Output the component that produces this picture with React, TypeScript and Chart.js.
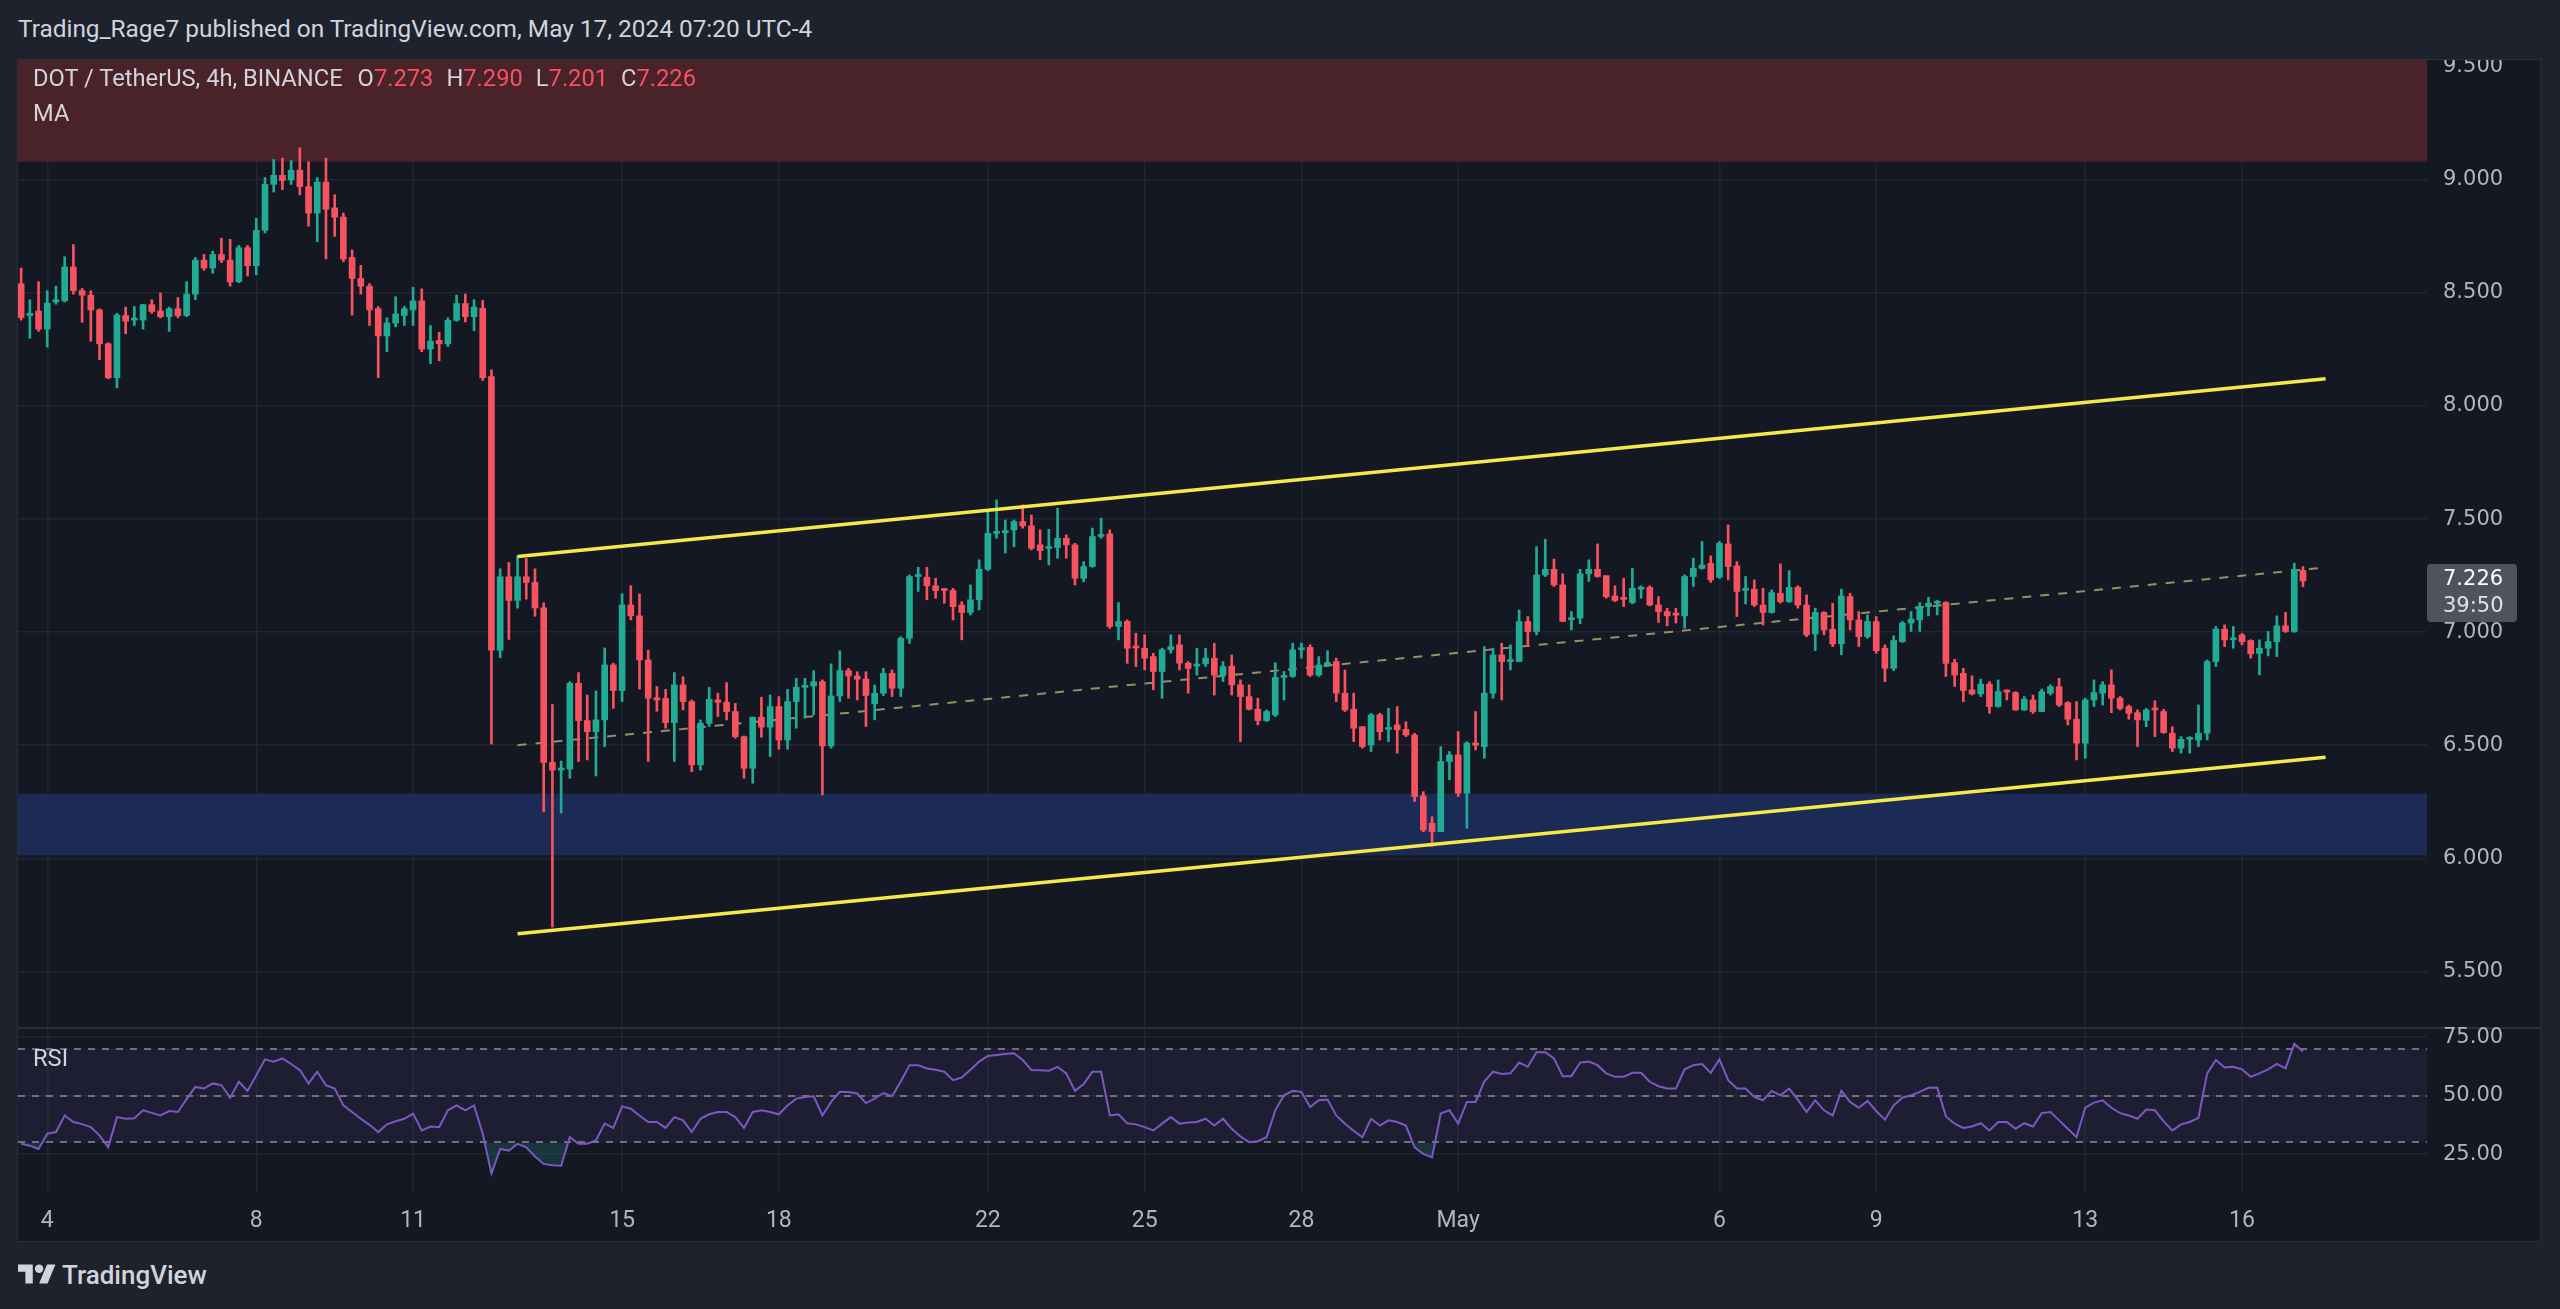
import React, { useEffect, useRef } from "react";
import { Chart, registerables } from "chart.js";

Chart.register(...registerables);

const FONT = "Roboto, 'Liberation Sans', sans-serif";
const AXIS_FONT = "'DejaVu Sans', Verdana, sans-serif";
const UP = "#22ab94";
const DOWN = "#f7525f";
const GRID = "rgba(42,46,57,0.6)";
const AXIS_TEXT = "#b2b5be";
const PANE_BG = "#141823";
const OUTER_BG = "#1e222d";
const TEXT = "#d1d4dc";

// time grid: day offset from Apr 4 (00:00), one candle every 4 hours
const firstCandleDay = -0.5;
const candleStepDays = 1 / 6;

const opens = [
  8.541, 8.40, 8.42, 8.34, 8.46, 8.465, 8.615, 8.51, 8.49, 8.425,
  8.275, 8.125, 8.40, 8.38, 8.38, 8.448, 8.42, 8.395, 8.43, 8.40,
  8.495, 8.645, 8.61, 8.67, 8.645, 8.55, 8.70, 8.62, 8.777, 8.98,
  9.02, 9.0, 9.043, 8.97, 8.853, 8.99, 8.876, 8.835, 8.657, 8.564,
  8.53, 8.43, 8.31, 8.367, 8.40, 8.425, 8.465, 8.252, 8.29, 8.275,
  8.379, 8.453, 8.395, 8.432, 8.13, 6.92, 7.245, 7.14, 7.245, 7.22,
  7.107, 6.424, 6.39, 6.395, 6.774, 6.609, 6.56, 6.612, 6.855, 6.742,
  7.12, 7.072, 6.877, 6.71, 6.707, 6.60, 6.767, 6.693, 6.413, 6.597,
  6.70, 6.69, 6.649, 6.538, 6.398, 6.624, 6.58, 6.671, 6.523, 6.693,
  6.756, 6.762, 6.781, 6.497, 6.718, 6.83, 6.806, 6.792, 6.683, 6.73,
  6.818, 6.752, 6.973, 7.246, 7.243, 7.205, 7.19, 7.184, 7.12, 7.087,
  7.143, 7.278, 7.437, 7.44, 7.452, 7.489, 7.47, 7.386, 7.37, 7.374,
  7.415, 7.386, 7.238, 7.29, 7.423, 7.434, 7.025, 7.047, 6.935, 6.929,
  6.892, 6.826, 6.922, 6.944, 6.863, 6.85, 6.86, 6.885, 6.81, 6.85,
  6.767, 6.715, 6.659, 6.609, 6.634, 6.80, 6.804, 6.922, 6.933, 6.81,
  6.855, 6.87, 6.73, 6.659, 6.582, 6.501, 6.634, 6.57, 6.59, 6.57,
  6.545, 6.276, 6.155, 6.118, 6.428, 6.457, 6.288, 6.51, 6.494, 6.73,
  6.899, 6.87, 6.87, 7.047, 7.003, 7.253, 7.278, 7.209, 7.055, 7.062,
  7.258, 7.278, 7.25, 7.16, 7.147, 7.131, 7.19, 7.198, 7.12, 7.091,
  7.08, 7.072, 7.246, 7.282, 7.304, 7.243, 7.39, 7.293, 7.185, 7.19,
  7.12, 7.087, 7.172, 7.135, 7.198, 7.12, 6.992, 7.087, 7.013, 6.948,
  7.157, 7.054, 6.98, 7.047, 6.929, 6.84, 6.958, 7.04, 7.054, 7.113,
  7.128, 7.131, 6.865, 6.818, 6.745, 6.727, 6.77, 6.671, 6.737, 6.733,
  6.656, 6.70, 6.649, 6.73, 6.759, 6.688, 6.615, 6.509, 6.70, 6.73,
  6.767, 6.708, 6.671, 6.644, 6.61, 6.658, 6.649, 6.553, 6.487, 6.526,
  6.523, 6.553, 6.87, 7.013, 6.966, 6.988, 6.963, 6.906, 6.929, 6.958,
  7.028, 7.003, 7.273,
];

const highs = [
  8.61, 8.47, 8.55, 8.51, 8.53, 8.66, 8.714, 8.52, 8.51, 8.43,
  8.28, 8.41, 8.437, 8.44, 8.45, 8.47, 8.50, 8.437, 8.48, 8.55,
  8.656, 8.67, 8.685, 8.742, 8.737, 8.71, 8.71, 8.83, 9.01, 9.09,
  9.096, 9.085, 9.142, 9.08, 9.01, 9.096, 8.934, 8.853, 8.69, 8.622,
  8.541, 8.44, 8.39, 8.483, 8.44, 8.525, 8.518, 8.356, 8.326, 8.39,
  8.49, 8.495, 8.47, 8.467, 8.16, 7.28, 7.308, 7.338, 7.326, 7.28,
  7.13, 6.68, 6.43, 6.781, 6.821, 6.722, 6.74, 6.93, 6.863, 7.169,
  7.205, 7.169, 6.92, 6.76, 6.747, 6.821, 6.803, 6.70, 6.612, 6.756,
  6.73, 6.777, 6.685, 6.541, 6.624, 6.712, 6.722, 6.715, 6.747, 6.796,
  6.796, 6.83, 6.789, 6.86, 6.918, 6.84, 6.825, 6.825, 6.766, 6.84,
  6.833, 6.98, 7.253, 7.287, 7.287, 7.238, 7.194, 7.194, 7.135, 7.209,
  7.32, 7.533, 7.585, 7.496, 7.496, 7.563, 7.518, 7.452, 7.455, 7.548,
  7.43, 7.393, 7.312, 7.46, 7.504, 7.452, 7.131, 7.054, 6.995, 6.988,
  6.907, 6.929, 6.988, 6.988, 6.87, 6.929, 6.929, 6.951, 6.87, 6.899,
  6.789, 6.767, 6.708, 6.656, 6.865, 6.826, 6.951, 6.951, 6.944, 6.892,
  6.918, 6.885, 6.833, 6.73, 6.582, 6.641, 6.641, 6.663, 6.671, 6.604,
  6.553, 6.295, 6.184, 6.494, 6.472, 6.56, 6.516, 6.649, 6.936, 6.929,
  6.951, 6.944, 7.098, 7.069, 7.378, 7.411, 7.323, 7.258, 7.091, 7.278,
  7.32, 7.39, 7.25, 7.205, 7.238, 7.282, 7.205, 7.205, 7.157, 7.106,
  7.106, 7.253, 7.327, 7.401, 7.337, 7.401, 7.474, 7.312, 7.246, 7.231,
  7.194, 7.187, 7.302, 7.272, 7.205, 7.165, 7.106, 7.091, 7.128, 7.19,
  7.172, 7.091, 7.076, 7.069, 6.944, 6.984, 7.047, 7.091, 7.131, 7.154,
  7.14, 7.135, 6.88, 6.84, 6.807, 6.792, 6.781, 6.789, 6.745, 6.737,
  6.715, 6.722, 6.748, 6.767, 6.796, 6.693, 6.693, 6.708, 6.789, 6.781,
  6.833, 6.715, 6.678, 6.656, 6.663, 6.697, 6.659, 6.582, 6.538, 6.538,
  6.678, 6.877, 7.025, 7.032, 7.025, 6.995, 6.966, 6.966, 7.003, 7.072,
  7.087, 7.305, 7.29,
];

const lows = [
  8.38, 8.30, 8.33, 8.26, 8.45, 8.46, 8.495, 8.37, 8.286, 8.205,
  8.12, 8.08, 8.32, 8.356, 8.34, 8.41, 8.39, 8.33, 8.39, 8.395,
  8.47, 8.60, 8.587, 8.634, 8.53, 8.545, 8.575, 8.58, 8.765, 8.946,
  8.957, 8.98, 8.934, 8.795, 8.726, 8.65, 8.75, 8.638, 8.402, 8.495,
  8.356, 8.125, 8.24, 8.35, 8.356, 8.356, 8.24, 8.187, 8.20, 8.263,
  8.375, 8.372, 8.333, 8.113, 6.505, 6.887, 6.968, 7.106, 7.146, 7.07,
  6.205, 5.696, 6.20, 6.354, 6.428, 6.435, 6.364, 6.494, 6.663, 6.693,
  7.054, 6.748, 6.428, 6.65, 6.575, 6.428, 6.656, 6.383, 6.39, 6.583,
  6.627, 6.612, 6.531, 6.354, 6.332, 6.535, 6.45, 6.482, 6.482, 6.575,
  6.62, 6.634, 6.28, 6.487, 6.693, 6.708, 6.70, 6.583, 6.612, 6.72,
  6.715, 6.715, 6.95, 7.18, 7.143, 7.15, 7.128, 7.054, 6.966, 7.076,
  7.098, 7.272, 7.415, 7.35, 7.378, 7.46, 7.364, 7.32, 7.297, 7.327,
  7.327, 7.209, 7.223, 7.287, 7.415, 7.017, 6.966, 6.862, 6.848, 6.833,
  6.745, 6.708, 6.907, 6.833, 6.73, 6.81, 6.848, 6.722, 6.782, 6.722,
  6.516, 6.656, 6.59, 6.605, 6.627, 6.70, 6.80, 6.885, 6.804, 6.804,
  6.848, 6.693, 6.649, 6.516, 6.487, 6.472, 6.523, 6.516, 6.465, 6.538,
  6.251, 6.118, 6.052, 6.118, 6.347, 6.273, 6.133, 6.479, 6.442, 6.708,
  6.70, 6.833, 6.87, 6.936, 6.988, 7.246, 7.202, 7.047, 7.01, 7.037,
  7.224, 7.243, 7.15, 7.135, 7.113, 7.125, 7.15, 7.116, 7.043, 7.028,
  7.04, 7.017, 7.202, 7.278, 7.22, 7.238, 7.231, 7.069, 7.125, 7.113,
  7.032, 7.084, 7.128, 7.131, 7.106, 6.98, 6.918, 6.988, 6.936, 6.9,
  7.01, 6.936, 6.973, 6.907, 6.781, 6.83, 6.955, 7.003, 7.003, 7.072,
  7.076, 6.804, 6.76, 6.693, 6.722, 6.715, 6.641, 6.668, 6.70, 6.654,
  6.654, 6.641, 6.649, 6.722, 6.671, 6.59, 6.435, 6.442, 6.671, 6.678,
  6.644, 6.656, 6.615, 6.494, 6.582, 6.538, 6.553, 6.472, 6.465, 6.465,
  6.494, 6.523, 6.848, 6.936, 6.929, 6.944, 6.885, 6.811, 6.895, 6.892,
  6.999, 6.999, 7.201,
];

const closes = [
  8.391, 8.41, 8.34, 8.455, 8.47, 8.615, 8.51, 8.49, 8.425, 8.275,
  8.125, 8.402, 8.375, 8.385, 8.448, 8.418, 8.395, 8.43, 8.40, 8.495,
  8.645, 8.61, 8.67, 8.645, 8.548, 8.70, 8.62, 8.777, 8.98, 9.02,
  8.997, 9.043, 8.97, 8.853, 8.99, 8.87, 8.835, 8.65, 8.564, 8.53,
  8.425, 8.31, 8.367, 8.407, 8.43, 8.465, 8.252, 8.287, 8.275, 8.379,
  8.453, 8.395, 8.437, 8.125, 6.92, 7.245, 7.14, 7.245, 7.22, 7.107,
  6.424, 6.39, 6.395, 6.774, 6.609, 6.56, 6.612, 6.855, 6.742, 7.12,
  7.072, 6.877, 6.708, 6.70, 6.60, 6.767, 6.693, 6.413, 6.597, 6.703,
  6.69, 6.649, 6.538, 6.398, 6.624, 6.58, 6.671, 6.523, 6.693, 6.756,
  6.762, 6.781, 6.497, 6.718, 6.83, 6.806, 6.792, 6.72, 6.73, 6.818,
  6.752, 6.973, 7.246, 7.25, 7.205, 7.184, 7.184, 7.113, 7.087, 7.143,
  7.278, 7.437, 7.44, 7.44, 7.489, 7.47, 7.371, 7.361, 7.374, 7.415,
  7.386, 7.238, 7.29, 7.423, 7.426, 7.025, 7.047, 6.929, 6.93, 6.885,
  6.826, 6.922, 6.936, 6.863, 6.84, 6.855, 6.885, 6.81, 6.848, 6.767,
  6.715, 6.659, 6.609, 6.649, 6.80, 6.804, 6.922, 6.929, 6.81, 6.855,
  6.866, 6.73, 6.656, 6.575, 6.494, 6.634, 6.56, 6.575, 6.568, 6.545,
  6.273, 6.125, 6.118, 6.428, 6.457, 6.288, 6.509, 6.50, 6.73, 6.899,
  6.87, 6.877, 7.047, 7.003, 7.253, 7.278, 7.209, 7.047, 7.058, 7.258,
  7.278, 7.246, 7.157, 7.14, 7.145, 7.194, 7.198, 7.12, 7.091, 7.072,
  7.075, 7.246, 7.282, 7.297, 7.231, 7.393, 7.29, 7.18, 7.187, 7.12,
  7.087, 7.175, 7.135, 7.198, 7.12, 6.988, 7.087, 7.01, 6.948, 7.16,
  7.054, 6.98, 7.047, 6.918, 6.84, 6.963, 7.04, 7.058, 7.113, 7.128,
  7.131, 6.862, 6.81, 6.742, 6.727, 6.77, 6.671, 6.737, 6.735, 6.656,
  6.703, 6.649, 6.737, 6.759, 6.678, 6.615, 6.509, 6.70, 6.733, 6.767,
  6.708, 6.663, 6.641, 6.612, 6.656, 6.656, 6.556, 6.487, 6.526, 6.53,
  6.553, 6.87, 7.013, 6.966, 6.973, 6.958, 6.904, 6.929, 6.958, 7.028,
  7.003, 7.278, 7.226,
];

const rsiValues = [
  29.4, 28.6, 27.2, 33.7, 34.4, 41.5, 38.7, 37.8, 36.5, 33.0,
  27.9, 40.8, 40.1, 40.3, 43.7, 42.6, 41.5, 43.4, 43.0, 48.5,
  53.7, 53.0, 55.2, 54.4, 49.1, 55.9, 52.0, 58.7, 65.5, 64.5,
  65.9, 63.5, 60.9, 55.2, 60.2, 54.4, 53.0, 45.8, 43.0, 40.1,
  37.5, 34.4, 37.7, 39.0, 40.1, 42.3, 35.1, 36.8, 36.5, 43.7,
  45.8, 43.7, 45.8, 33.7, 16.7, 27.2, 26.5, 29.4, 27.9, 24.0,
  20.8, 20.2, 20.0, 32.2, 29.4, 29.4, 30.8, 38.0, 36.2, 45.4,
  44.4, 41.5, 38.7, 38.7, 36.2, 40.8, 39.4, 34.4, 40.1, 42.0,
  43.0, 43.0, 40.8, 36.2, 43.0, 43.7, 43.0, 42.0, 45.8, 48.7,
  49.4, 49.7, 41.5, 47.3, 51.6, 51.5, 50.9, 46.8, 48.7, 51.1,
  49.7, 56.0, 63.0, 63.0, 61.6, 61.0, 60.2, 56.6, 57.7, 61.0,
  64.5, 66.9, 67.3, 67.8, 68.1, 65.2, 60.9, 60.8, 60.6, 62.3,
  59.5, 52.0, 54.9, 60.2, 60.2, 41.5, 42.0, 38.2, 37.7, 36.5,
  35.1, 38.0, 40.8, 38.0, 38.5, 38.7, 40.1, 37.2, 40.1, 35.8,
  32.5, 30.1, 30.5, 32.2, 43.7, 50.1, 52.0, 51.6, 45.1, 48.0,
  48.3, 41.5, 38.0, 35.0, 32.2, 40.1, 37.2, 39.4, 38.7, 37.2,
  27.9, 25.1, 23.6, 42.3, 43.7, 38.0, 47.3, 47.3, 56.0, 60.2,
  59.2, 59.5, 64.1, 62.3, 68.5, 68.5, 65.9, 58.3, 58.3, 64.1,
  64.5, 63.0, 59.5, 58.0, 58.0, 59.7, 59.7, 55.9, 54.0, 53.0,
  53.0, 61.2, 63.0, 63.5, 59.7, 65.5, 56.6, 53.0, 53.0, 49.4,
  48.0, 52.0, 50.1, 53.0, 48.3, 43.0, 48.0, 43.7, 41.5, 52.0,
  47.3, 44.8, 47.7, 43.4, 39.7, 45.8, 49.1, 50.1, 51.6, 53.3,
  53.4, 41.1, 38.0, 36.2, 36.8, 38.2, 35.1, 38.7, 38.7, 35.8,
  38.2, 36.8, 42.5, 43.0, 39.4, 35.8, 32.2, 44.8, 47.0, 48.0,
  44.8, 42.5, 41.5, 40.1, 44.0, 43.7, 39.0, 35.1, 37.7, 38.7,
  40.5, 59.5, 65.2, 62.0, 62.3, 61.2, 58.0, 59.5, 61.2, 63.5,
  61.6, 72.1, 68.8,
];

const xTickDays = [0, 4, 7, 11, 14, 18, 21, 24, 27, 32, 35, 39, 42];
const xTickLabels = ["4", "8", "11", "15", "18", "22", "25", "28", "May", "6", "9", "13", "16"];
const priceTicks = [5.5, 6, 6.5, 7, 7.5, 8, 8.5, 9, 9.5];
const rsiTicks = [25, 50, 75];
const rsiLevels = [70, 50, 30];
const rsiBand = [30, 70];
const resistanceZone = [9.08, 9.6];
const supportZone = [6.013, 6.286];
const channelUpper = [{ x: 9.0, y: 7.335 }, { x: 43.6, y: 8.121 }];
const channelLower = [{ x: 9.0, y: 5.666 }, { x: 43.6, y: 6.447 }];
const channelMid = [{ x: 9.0, y: 6.5 }, { x: 43.6, y: 7.286 }];
const lastPriceLabel = ["7.226", "39:50"];

const X_MIN = -0.56;
const X_MAX = 45.54;
const PRICE_MIN = 5.254;
const PRICE_MAX = 9.53;
const RSI_MIN = 8.8;
const RSI_MAX = 79.3;
const FRAME_W = 2522;
const AXIS_W = 113;

const candleDays = closes.map((_, i) => firstCandleDay + i * candleStepDays);
const candleColors = closes.map((c, i) => (c >= opens[i] ? UP : DOWN));
const bodyData = candleDays.map((x, i) => ({ x, y: [opens[i], closes[i]] }));
const wickData = candleDays.map((x, i) => ({ x, y: [lows[i], highs[i]] }));
const rsiData = candleDays.map((x, i) => ({ x, y: rsiValues[i] }));

const zonesPlugin = {
  id: "zones",
  beforeDatasetsDraw(chart: any) {
    const { ctx, chartArea: a, scales } = chart;
    const y = scales.y;
    ctx.save();
    ctx.beginPath();
    ctx.rect(a.left, a.top, a.width, a.height);
    ctx.clip();
    const zones: [number[], string][] = [
      [resistanceZone, "#4a222a"],
      [supportZone, "#1c2a56"],
    ];
    for (const [z, color] of zones) {
      const yTop = y.getPixelForValue(z[1]);
      const yBot = y.getPixelForValue(z[0]);
      ctx.fillStyle = color;
      ctx.fillRect(a.left, yTop, a.width, yBot - yTop);
    }
    ctx.restore();
  },
};

const lastPricePlugin = {
  id: "lastPrice",
  afterDraw(chart: any) {
    const { ctx, chartArea: a, scales } = chart;
    const yc = scales.y.getPixelForValue(closes[closes.length - 1]);
    const left = a.right;
    const w = 90;
    const top = Math.round(yc - 17);
    const h = 58;
    ctx.save();
    ctx.fillStyle = "#50535e";
    ctx.beginPath();
    if (ctx.roundRect) ctx.roundRect(left, top, w, h, 4);
    else ctx.rect(left, top, w, h);
    ctx.fill();
    ctx.font = `21px ${AXIS_FONT}`;
    ctx.textBaseline = "middle";
    ctx.textAlign = "left";
    ctx.fillStyle = "#ffffff";
    ctx.fillText(lastPriceLabel[0], left + 16, top + 16);
    ctx.fillStyle = "#dfe2ea";
    ctx.fillText(lastPriceLabel[1], left + 16, top + 43);
    ctx.restore();
  },
};

const rsiBandPlugin = {
  id: "rsiBand",
  beforeDatasetsDraw(chart: any) {
    const { ctx, chartArea: a, scales } = chart;
    const y = scales.y;
    ctx.save();
    const yTop = y.getPixelForValue(rsiBand[1]);
    const yBot = y.getPixelForValue(rsiBand[0]);
    ctx.fillStyle = "rgba(126,87,194,0.1)";
    ctx.fillRect(a.left, yTop, a.width, yBot - yTop);
    ctx.strokeStyle = "rgba(120,123,134,0.9)";
    ctx.lineWidth = 2;
    ctx.setLineDash([7, 7]);
    for (const lv of rsiLevels) {
      const yy = Math.round(y.getPixelForValue(lv));
      ctx.beginPath();
      ctx.moveTo(a.left, yy);
      ctx.lineTo(a.right, yy);
      ctx.stroke();
    }
    ctx.restore();
  },
};

function lineSet(data: any[], color: string, width: number, order: number, dash: number[] = []) {
  return {
    type: "line",
    data,
    borderColor: color,
    borderWidth: width,
    borderDash: dash,
    pointRadius: 0,
    fill: false,
    order,
    tension: 0,
  };
}

export default function App() {
  const priceRef = useRef<HTMLCanvasElement>(null);
  const rsiRef = useRef<HTMLCanvasElement>(null);

  useEffect(() => {
    document.body.style.margin = "0";
    document.body.style.background = OUTER_BG;

    const xCommon = {
      type: "linear",
      min: X_MIN,
      max: X_MAX,
      offset: false,
      grid: { color: GRID, lineWidth: 1.5, drawTicks: false, offset: false },
      border: { display: false },
      afterBuildTicks: (s: any) => {
        s.ticks = xTickDays.map((v) => ({ value: v }));
      },
    };

    const yTickStyle = {
      color: AXIS_TEXT,
      font: { size: 21, family: AXIS_FONT },
      padding: 16,
    };

    const price = new Chart(priceRef.current as HTMLCanvasElement, {
      type: "bar",
      data: {
        datasets: [
          lineSet(channelMid, "rgba(190,186,120,0.75)", 2, 3, [9, 9]),
          {
            type: "bar",
            data: wickData,
            backgroundColor: candleColors,
            barThickness: 2,
            grouped: false,
            borderWidth: 0,
            order: 2,
          },
          {
            type: "bar",
            data: bodyData,
            backgroundColor: candleColors,
            barThickness: 6,
            grouped: false,
            borderWidth: 0,
            minBarLength: 2,
            order: 1,
          },
          lineSet(channelUpper, "#f5e84a", 3.5, 0),
          lineSet(channelLower, "#f5e84a", 3.5, 0),
        ] as any,
      },
      options: {
        animation: false,
        responsive: true,
        maintainAspectRatio: false,
        events: [],
        layout: { padding: 0 },
        plugins: { legend: { display: false }, tooltip: { enabled: false } },
        scales: {
          x: {
            ...xCommon,
            ticks: { display: false },
            afterFit: (s: any) => {
              s.height = 0;
              s.paddingLeft = 0;
              s.paddingRight = 0;
            },
          },
          y: {
            type: "linear",
            position: "right",
            min: PRICE_MIN,
            max: PRICE_MAX,
            grid: { color: GRID, lineWidth: 1.5, drawTicks: false },
            border: { display: false },
            ticks: { ...yTickStyle, callback: (v: any) => Number(v).toFixed(3) },
            afterBuildTicks: (s: any) => {
              s.ticks = priceTicks.map((v) => ({ value: v }));
            },
            afterFit: (s: any) => {
              s.width = AXIS_W;
              s.paddingTop = 0;
              s.paddingBottom = 0;
            },
          },
        },
      } as any,
      plugins: [zonesPlugin, lastPricePlugin],
    });

    const rsi = new Chart(rsiRef.current as HTMLCanvasElement, {
      type: "line",
      data: {
        datasets: [
          {
            data: rsiData,
            borderColor: "#7e57c2",
            borderWidth: 2,
            pointRadius: 0,
            tension: 0,
            fill: { target: { value: 30 }, above: "rgba(0,0,0,0)", below: "rgba(34,171,148,0.2)" },
          },
          {
            data: rsiData,
            borderColor: "rgba(0,0,0,0)",
            borderWidth: 0,
            pointRadius: 0,
            tension: 0,
            fill: { target: { value: 70 }, above: "rgba(242,54,69,0.25)", below: "rgba(0,0,0,0)" },
          },
        ] as any,
      },
      options: {
        animation: false,
        responsive: true,
        maintainAspectRatio: false,
        events: [],
        layout: { padding: 0 },
        plugins: { legend: { display: false }, tooltip: { enabled: false } },
        scales: {
          x: {
            ...xCommon,
            ticks: {
              color: AXIS_TEXT,
              font: { size: 23, family: FONT },
              padding: 15,
              maxRotation: 0,
              autoSkip: false,
              callback: (_v: any, i: number) => xTickLabels[i],
            },
            afterFit: (s: any) => {
              s.height = 49;
              s.paddingLeft = 0;
              s.paddingRight = 0;
            },
          },
          y: {
            type: "linear",
            position: "right",
            min: RSI_MIN,
            max: RSI_MAX,
            grid: { color: GRID, lineWidth: 1.5, drawTicks: false },
            border: { display: false },
            ticks: { ...yTickStyle, callback: (v: any) => Number(v).toFixed(2) },
            afterBuildTicks: (s: any) => {
              s.ticks = rsiTicks.map((v) => ({ value: v }));
            },
            afterFit: (s: any) => {
              s.width = AXIS_W;
              s.paddingTop = 0;
              s.paddingBottom = 0;
            },
          },
        },
      } as any,
      plugins: [rsiBandPlugin],
    });

    return () => {
      price.destroy();
      rsi.destroy();
    };
  }, []);

  const red = { color: DOWN };
  return (
    <div
      style={{
        position: "fixed",
        left: 0,
        top: 0,
        width: 2560,
        height: 1309,
        background: OUTER_BG,
        overflow: "hidden",
        fontFamily: FONT,
        color: TEXT,
      }}
    >
      <div style={{ position: "absolute", left: 18, top: 15, fontSize: 24.4, lineHeight: "28px", whiteSpace: "nowrap" }}>
        Trading_Rage7 published on TradingView.com, May 17, 2024 07:20 UTC-4
      </div>
      <div
        style={{
          position: "absolute",
          left: 18,
          top: 60,
          width: FRAME_W,
          height: 1181,
          background: PANE_BG,
          boxShadow: "0 0 0 1px #2a2e39",
        }}
      >
        <div style={{ position: "absolute", left: 0, top: 0, width: FRAME_W, height: 967 }}>
          <canvas ref={priceRef} />
        </div>
        <div style={{ position: "absolute", left: 0, top: 967, width: FRAME_W, height: 1.5, background: "#2a2e39" }} />
        <div style={{ position: "absolute", left: 0, top: 967, width: FRAME_W, height: 214 }}>
          <canvas ref={rsiRef} />
        </div>
        <div style={{ position: "absolute", left: 15, top: 5, fontSize: 23.7, lineHeight: "26px", whiteSpace: "nowrap" }}>
          DOT / TetherUS, 4h, BINANCE
          <span style={{ marginLeft: 15 }}>O</span>
          <span style={red}>7.273</span>
          <span style={{ marginLeft: 13 }}>H</span>
          <span style={red}>7.290</span>
          <span style={{ marginLeft: 13 }}>L</span>
          <span style={red}>7.201</span>
          <span style={{ marginLeft: 13 }}>C</span>
          <span style={red}>7.226</span>
        </div>
        <div style={{ position: "absolute", left: 15, top: 40, fontSize: 23.7, lineHeight: "26px" }}>MA</div>
        <div style={{ position: "absolute", left: 15, top: 985, fontSize: 23.7, lineHeight: "26px" }}>RSI</div>
      </div>
      <div style={{ position: "absolute", left: 18, top: 1260, display: "flex", alignItems: "center", gap: 6 }}>
        <svg width="38" height="30" viewBox="0 0 36 28">
          <path d="M14 22H7V11H0V4h14v18zM28 22h-8l7.5-18h8L28 22z" fill={TEXT} />
          <circle cx="20" cy="8" r="4" fill={TEXT} />
        </svg>
        <span style={{ fontSize: 26, lineHeight: "30px", fontWeight: 500 }}>TradingView</span>
      </div>
    </div>
  );
}
